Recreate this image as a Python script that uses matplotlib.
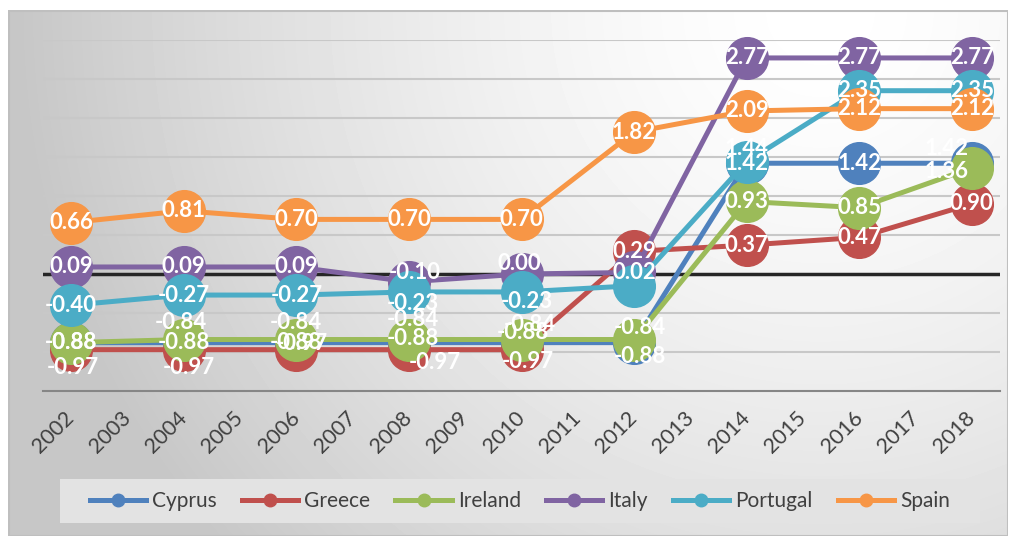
import numpy as np
import matplotlib
matplotlib.use("Agg")
import matplotlib.pyplot as plt
from matplotlib.lines import Line2D
from matplotlib.patches import Rectangle

plt.rcParams['font.family'] = ['Lato', 'DejaVu Sans']

# category axis (every year) and the years that carry data
all_years = [2002, 2003, 2004, 2005, 2006, 2007, 2008, 2009, 2010,
             2011, 2012, 2013, 2014, 2015, 2016, 2017, 2018]
years = [2002, 2004, 2006, 2008, 2010, 2012, 2014, 2016, 2018]

cyprus   = [-0.88, -0.88, -0.88, -0.88, -0.88, -0.88, 1.42, 1.42, 1.42]
greece   = [-0.97, -0.97, -0.97, -0.97, -0.97, 0.29, 0.37, 0.47, 0.90]
ireland  = [-0.88, -0.84, -0.84, -0.84, -0.84, -0.84, 0.93, 0.85, 1.36]
italy    = [0.09, 0.09, 0.09, -0.10, 0.00, 0.02, 2.77, 2.77, 2.77]
portugal = [-0.40, -0.27, -0.27, -0.23, -0.23, -0.15, 1.44, 2.35, 2.35]
spain    = [0.66, 0.81, 0.70, 0.70, 0.70, 1.82, 2.09, 2.12, 2.12]

names = ['Cyprus', 'Greece', 'Ireland', 'Italy', 'Portugal', 'Spain']
series = [cyprus, greece, ireland, italy, portugal, spain]
colors = ['#4F81BD', '#C0504D', '#9BBB59', '#8064A2', '#4BACC6', '#F79646']

# label nudges in pixels (dx right, dy down), as the labels sit in the original
nudge = {
    ('Greece', 2002): (2, 18),
    ('Ireland', 2004): (-3, -17), ('Greece', 2004): (5, 18),
    ('Ireland', 2006): (0, -17), ('Greece', 2006): (5, -6),
    ('Italy', 2008): (6, -9), ('Portugal', 2008): (4, 12),
    ('Ireland', 2008): (4, -20), ('Cyprus', 2008): (4, -4), ('Greece', 2008): (26, 13),
    ('Italy', 2010): (-2, -10), ('Portugal', 2010): (5, 10),
    ('Ireland', 2010): (8, -15), ('Cyprus', 2010): (1, -10), ('Greece', 2010): (6, 12),
    ('Cyprus', 2012): (6, 14), ('Ireland', 2012): (6, -12),
    ('Portugal', 2014): (0, -13),
    ('Cyprus', 2018): (-25, -15), ('Ireland', 2018): (-25, 4),
}
hidden = {('Portugal', 2012)}

W, H = 1019, 536
fig = plt.figure(figsize=(W / 100, H / 100), dpi=100)

# grey gradient chart area
bg = fig.add_axes([8 / W, 0, (W - 8 - 11) / W, (H - 10) / H])
bg.axis('off')
yy, xx = np.mgrid[0:526, 0:1000]
d = np.hypot(xx + 8 - 820, yy + 10 - 10)
shade = 1 - 0.22 * np.clip(d / 800, 0, 1) ** 1.5
bg.imshow(shade, cmap='gray', vmin=0, vmax=1, aspect='auto', interpolation='bilinear')
bg.add_patch(Rectangle((0, 0), 999, 525, fill=False, edgecolor='#bfbfbf', lw=1.5))

ax = fig.add_axes([43 / W, (H - 391) / H, 957 / W, 351 / H])
ax.set_facecolor('none')
ax.set_xlim(2001.5, 2018.5)
ax.set_ylim(-1.5, 3.0)

for g in np.arange(-1.0, 3.01, 0.5):
    if abs(g) > 1e-9:
        ax.axhline(g, color='#c8c8c8', lw=1.5, zorder=1)
ax.axhline(-1.5, color='#868686', lw=1.5, zorder=1, clip_on=False)
ax.axhline(0, color='#262626', lw=2.5, zorder=2)

for i, (name, vals, c) in enumerate(zip(names, series, colors)):
    ax.plot(years, vals, color=c, lw=3.6, marker='o', markersize=30,
            markeredgecolor=c, zorder=3 + i, clip_on=False)

for name, vals in zip(names, series):
    for yr, v in zip(years, vals):
        if (name, yr) in hidden:
            continue
        dx, dy = nudge.get((name, yr), (0, 0))
        ax.annotate(f'{v:.2f}', (yr, v), xytext=(dx * 0.72, -dy * 0.72),
                    textcoords='offset points', ha='center', va='center',
                    color='white', fontsize=16, fontweight='bold', zorder=20)

ax.set_xticks(all_years)
ax.set_xticklabels([str(y) for y in all_years], rotation=45, ha='right',
                   va='center', rotation_mode='anchor', fontsize=15.5, color='#404040')
ax.tick_params(axis='x', length=0, pad=17)
ax.set_yticks([])
for s in ax.spines.values():
    s.set_visible(False)

# legend box
fig.patches.append(Rectangle((60 / W, (H - 523) / H), 920 / W, 44 / H,
                             transform=fig.transFigure, facecolor='#e3e3e3',
                             edgecolor='none', zorder=0))
handles = [Line2D([], [], color=c, lw=3.6, marker='o', markersize=9) for c in colors]
fig.legend(handles, names, loc='center', bbox_to_anchor=(520 / W, (H - 501) / H),
           ncol=6, frameon=False, fontsize=15, labelcolor='#404040',
           handlelength=2.7, handletextpad=0.3, columnspacing=1.2)

fig.savefig('out.png', dpi=100)
